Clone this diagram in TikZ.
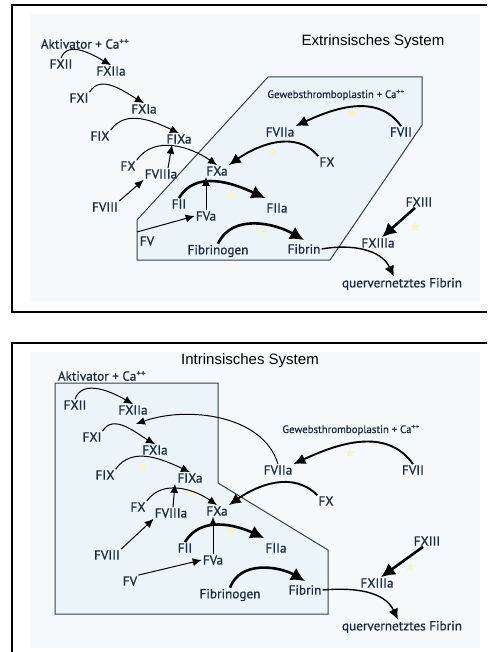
\documentclass[tikz,border=0pt]{standalone}
\usepackage{fontspec}
\setmainfont{PT Sans}
\newfontfamily\lblfont{PT Sans}[FakeBold=0.8]
\newfontfamily\titlefont{Liberation Sans}
\usetikzlibrary{arrows.meta,shapes.geometric}
\definecolor{lbl}{HTML}{1C2B44}
\definecolor{bgpale}{HTML}{F5F9FC}
\definecolor{boxfill}{HTML}{EBF4F8}
\definecolor{boxline}{HTML}{34404A}
\definecolor{starcol}{HTML}{F8F4C8}
\begin{document}
\begin{tikzpicture}[x=1pt,y=1pt,
  lab/.style={text=lbl, font=\lblfont\fontsize{13.2}{14}\selectfont, inner sep=1pt},
  smalllab/.style={text=lbl, font=\lblfont\fontsize{10.8}{11}\selectfont, inner sep=1pt},
  ttl/.style={font=\titlefont\fontsize{15}{15}\selectfont, inner sep=0pt},
  thinarr/.style={line width=1pt, -{Latex[length=9pt,width=8pt]}},
  midarr/.style={line width=1.9pt, -{Latex[length=12pt,width=11pt]}},
  thickarr/.style={line width=2.6pt, -{Latex[length=14pt,width=14pt]}},
  quer/.style={line width=1.4pt, -{Latex[length=11pt,width=10pt]}},
  frame/.style={draw=black, line width=1.8pt},
  zone/.style={draw=boxline, line width=1pt, fill=boxfill},
  glow/.style={star, star points=5, star point ratio=2.2, minimum size=10pt, fill=starcol, inner sep=0pt}
]
\clip (0,0) rectangle (487,-652);
\fill[white] (0,0) rectangle (487,-652);
% ---------------- top panel ----------------
\fill[bgpale] (30,-14) rectangle (480,-302);
\draw[frame] (12,-5) rectangle (500,-312);
\draw[zone] (268,-77) -- (422,-77) -- (422,-125) -- (330,-260) -- (137,-260) -- (137,-220) -- cycle;
\coordinate (fvin1) at (137,-232);
\foreach \p [count=\i] in {(352,-113),(273,-152),(232,-196),(262,-230),(415,-227)}
  \node[glow] (st1-\i) at \p {};
\node[ttl] (title1) at (373,-42) {Extrinsisches System};
\node[lab] (akt1) at (85,-44) {Aktivator + Ca\textsuperscript{++}};
\node[lab] (fxii1) at (61,-64) {FXII};
\node[lab] (fxiia1) at (111,-71) {FXIIa};
\node[lab] (fxi1) at (79,-98) {FXI};
\node[lab] (fxia1) at (144,-109) {FXIa};
\node[lab] (fix1) at (100,-136) {FIX};
\node[lab] (fixa1) at (179,-139) {FIXa};
\node[lab] (fx1) at (128,-166) {FX};
\node[lab] (fviiia1) at (161,-174) {FVIIIa};
\node[lab] (fxa1) at (217,-171) {FXa};
\node[lab] (fviii1) at (105,-207) {FVIII};
\node[lab] (fii1) at (179,-204) {FII};
\node[lab] (fva1) at (206,-216) {FVa};
\node[lab] (fv1) at (147,-241) {FV};
\node[lab] (fibg1) at (218,-251) {Fibrinogen};
\node[lab] (fibr1) at (304,-249) {Fibrin};
\node[lab] (fiia1) at (277,-208) {FIIa};
\node[smalllab] (gew1) at (336,-95) {Gewebsthromboplastin + Ca\textsuperscript{++}};
\node[lab] (fviia1) at (280,-132) {FVIIa};
\node[lab] (fvii1) at (401,-132) {FVII};
\node[lab] (fxr1) at (327,-162) {FX};
\node[lab] (fxiii1) at (419,-202) {FXIII};
\node[lab] (fxiiia1) at (378,-243) {FXIIIa};
\node[lab] (quer1) at (402,-284) {quervernetztes Fibrin};
\draw[thinarr] (fxii1.north) to[out=70,in=150] (fxiia1.north);
\draw[thinarr] (fxi1.north east) to[out=60,in=150] (fxia1.north);
\draw[thinarr] (fix1.north east) to[out=55,in=155] (fixa1.north);
\draw[thinarr] (fx1.north east) to[out=55,in=145] (fxa1.north);
\draw[thinarr] ([xshift=7pt]fviiia1.north) -- ([xshift=-7pt]fixa1.south);
\draw[thinarr] (fviii1.north east) -- (fviiia1.south west);
\draw[thinarr] (fva1.north) -- (fva1.north |- fxa1.south);
\draw[thinarr] (fvin1) -- (fva1.west);
\draw[thickarr] (fii1.north) to[out=60,in=155] ([yshift=4pt]fiia1.north west);
\draw[thickarr] (fibg1.north) to[out=65,in=150] ([yshift=3pt]fibr1.north);
\draw[midarr] (fvii1.north) to[out=125,in=25] (fviia1.north east);
\draw[midarr] (fxr1.north west) to[out=130,in=35] (fxa1.north east);
\draw[thickarr] ([xshift=-4pt]fxiii1.south) -- ([xshift=4pt]fxiiia1.north);
\draw[quer] (fibr1.east) to[out=10,in=115] ([xshift=-8pt]quer1.north);
% ---------------- bottom panel ----------------
\fill[bgpale] (30,-352) rectangle (480,-648);
\draw[frame] (12,-343) rectangle (500,-660);
\draw[zone] (55,-383) -- (218,-383) -- (218,-483) -- (328,-550) -- (328,-614) -- (55,-614) -- cycle;
\coordinate (fxiarc) at (136,-424);
\foreach \p [count=\i] in {(143,-468),(192,-493),(230,-530),(350,-453),(410,-567)}
  \node[glow] (st2-\i) at \p {};
\node[ttl] (title2) at (250,-361) {Intrinsisches System};
\node[lab] (akt2) at (102,-376) {Aktivator + Ca\textsuperscript{++}};
\node[lab] (fxii2) at (75,-405) {FXII};
\node[lab] (fxiia2) at (133,-410) {FXIIa};
\node[lab] (fxi2) at (92,-437) {FXI};
\node[lab] (fxia2) at (155,-450) {FXIa};
\node[lab] (fix2) at (105,-475) {FIX};
\node[lab] (fixa2) at (190,-478) {FIXa};
\node[lab] (fx2) at (138,-507) {FX};
\node[lab] (fviiia2) at (171,-513) {FVIIIa};
\node[lab] (fxa2) at (217,-511) {FXa};
\node[lab] (fviii2) at (107,-555) {FVIII};
\node[lab] (fii2) at (185,-548) {FII};
\node[lab] (fva2) at (213,-560) {FVa};
\node[lab] (fv2) at (130,-581) {FV};
\node[lab] (fibg2) at (230,-595) {Fibrinogen};
\node[lab] (fibr2) at (305,-590) {Fibrin};
\node[lab] (fiia2) at (276,-548) {FIIa};
\node[smalllab] (gew2) at (351,-430) {Gewebsthromboplastin + Ca\textsuperscript{++}};
\node[lab] (fviia2) at (278,-470) {FVIIa};
\node[lab] (fvii2) at (413,-470) {FVII};
\node[lab] (fxr2) at (326,-501) {FX};
\node[lab] (fxiii2) at (427,-541) {FXIII};
\node[lab] (fxiiia2) at (377,-583) {FXIIIa};
\node[lab] (quer2) at (402,-627) {quervernetztes Fibrin};
\draw[thinarr] (fxii2.north) to[out=70,in=150] (fxiia2.north);
\draw[thinarr] (fxi2.north east) to[out=60,in=150] (fxia2.north);
\draw[thinarr] (fviia2.north) .. controls +(-15,50) and +(50,18) .. (fxiarc);
\draw[thinarr] (fix2.north east) to[out=55,in=155] (fixa2.north);
\draw[thinarr] (fx2.north east) to[out=55,in=145] (fxa2.north);
\draw[thinarr] ([xshift=2pt]fviiia2.north) -- ([xshift=-15pt]fixa2.south);
\draw[thinarr] (fviii2.north east) -- (fviiia2.south west);
\draw[thinarr] (fva2.north) -- (fva2.north |- fxa2.south);
\draw[thinarr] (fv2.north east) -- (fva2.west);
\draw[thickarr] (fii2.north) to[out=60,in=155] ([yshift=4pt]fiia2.north west);
\draw[thickarr] (fibg2.north) to[out=70,in=150] ([yshift=3pt]fibr2.north);
\draw[midarr] (fvii2.north) to[out=125,in=25] (fviia2.north east);
\draw[midarr] (fxr2.north west) to[out=135,in=35] (fxa2.north east);
\draw[thickarr] ([xshift=-4pt]fxiii2.south) -- ([xshift=4pt]fxiiia2.north);
\draw[quer] (fibr2.east) to[out=5,in=115] ([xshift=-4pt]quer2.north);
\end{tikzpicture}
\end{document}
